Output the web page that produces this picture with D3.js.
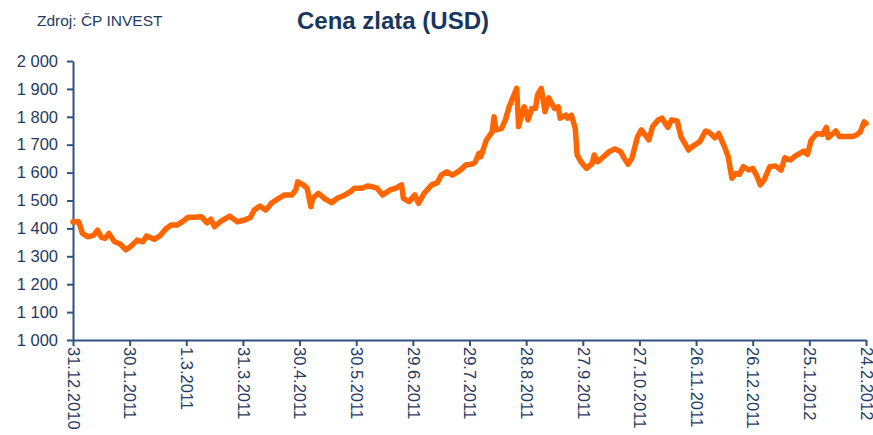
<!DOCTYPE html>
<html>
<head>
<meta charset="utf-8">
<script src="https://cdn.jsdelivr.net/npm/d3@7"></script>
<style>
body{margin:0;background:#fff;}
svg text{font-family:"Liberation Sans",Arial,sans-serif;}
</style>
</head>
<body>
<svg id="chart" width="873" height="435"></svg>
<script>
// gold price
const dates = [
"2010-12-31","2011-01-03","2011-01-05","2011-01-08","2011-01-11","2011-01-13","2011-01-15","2011-01-17","2011-01-19","2011-01-22",
"2011-01-25","2011-01-28","2011-01-31","2011-02-03","2011-02-06","2011-02-08","2011-02-12","2011-02-15","2011-02-18","2011-02-21",
"2011-02-24","2011-02-27","2011-03-02","2011-03-05","2011-03-09","2011-03-12","2011-03-14","2011-03-16","2011-03-19","2011-03-24",
"2011-03-28","2011-04-01","2011-04-04","2011-04-06","2011-04-09","2011-04-12","2011-04-14","2011-04-15","2011-04-19","2011-04-22",
"2011-04-26","2011-04-28","2011-04-29","2011-05-02","2011-05-04","2011-05-06","2011-05-07","2011-05-10","2011-05-13","2011-05-17",
"2011-05-20","2011-05-24","2011-05-27","2011-05-29","2011-06-02","2011-06-05","2011-06-07","2011-06-10","2011-06-13","2011-06-17",
"2011-06-20","2011-06-23","2011-06-24","2011-06-27","2011-06-30","2011-07-02","2011-07-05","2011-07-09","2011-07-12","2011-07-14",
"2011-07-17","2011-07-20","2011-07-24","2011-07-27","2011-07-30","2011-08-01","2011-08-03","2011-08-04","2011-08-07","2011-08-10",
"2011-08-11","2011-08-12","2011-08-15","2011-08-17","2011-08-19","2011-08-23","2011-08-24","2011-08-26","2011-08-27","2011-08-29",
"2011-08-31","2011-09-02","2011-09-03","2011-09-05","2011-09-07","2011-09-09","2011-09-10","2011-09-12","2011-09-14","2011-09-15",
"2011-09-18","2011-09-19","2011-09-21","2011-09-23","2011-09-24","2011-09-26","2011-09-29","2011-10-02","2011-10-03","2011-10-05",
"2011-10-08","2011-10-11","2011-10-14","2011-10-17","2011-10-19","2011-10-21","2011-10-23","2011-10-26","2011-10-28","2011-11-01",
"2011-11-03","2011-11-06","2011-11-08","2011-11-11","2011-11-13","2011-11-16","2011-11-18","2011-11-22","2011-11-24","2011-11-28",
"2011-12-01","2011-12-03","2011-12-06","2011-12-08","2011-12-11","2011-12-13","2011-12-15","2011-12-17","2011-12-19","2011-12-21",
"2011-12-24","2011-12-26","2011-12-28","2011-12-30","2012-01-01","2012-01-04","2012-01-07","2012-01-10","2012-01-12","2012-01-15",
"2012-01-17","2012-01-20","2012-01-22","2012-01-24","2012-01-26","2012-01-29","2012-02-01","2012-02-03","2012-02-04","2012-02-08",
"2012-02-10","2012-02-14","2012-02-17","2012-02-19","2012-02-21","2012-02-23","2012-02-24"
];
const prices = [
1423,1424,1382,1370,1376,1394,1368,1364,1382,1352,
1344,1323,1338,1358,1352,1373,1361,1373,1397,1412,
1412,1424,1440,1440,1442,1420,1433,1406,1424,1444,
1424,1430,1440,1466,1480,1466,1480,1490,1508,1520,
1520,1538,1567,1556,1544,1478,1508,1526,1508,1492,
1508,1520,1532,1544,1544,1552,1550,1544,1520,1538,
1544,1556,1508,1496,1520,1490,1526,1556,1564,1591,
1603,1591,1608,1627,1630,1637,1669,1657,1717,1746,
1800,1753,1758,1789,1836,1902,1765,1818,1836,1789,
1830,1830,1878,1902,1818,1868,1854,1830,1836,1795,
1806,1795,1806,1758,1663,1639,1615,1633,1663,1639,
1657,1675,1685,1675,1651,1630,1651,1729,1753,1717,
1765,1789,1795,1762,1789,1785,1729,1681,1693,1711,
1749,1744,1725,1740,1693,1657,1580,1597,1594,1621,
1609,1615,1591,1556,1573,1621,1624,1609,1653,1645,
1657,1669,1677,1665,1717,1740,1737,1762,1725,1749,
1729,1729,1729,1735,1746,1782,1776
];
const xTickLabels = ["31.12.2010","30.1.2011","1.3.2011","31.3.2011","30.4.2011","30.5.2011","29.6.2011",
  "29.7.2011","28.8.2011","27.9.2011","27.10.2011","26.11.2011","26.12.2011","25.1.2012","24.2.2012"];
const yTicks = [1000,1100,1200,1300,1400,1500,1600,1700,1800,1900,2000];

const navy = "#1f3b63", axisCol = "#2f5380";
const parseIso = d3.timeParse("%Y-%m-%d"), parseTick = d3.timeParse("%d.%m.%Y");
const data = dates.map((d,i) => ({date: parseIso(d), price: prices[i]}));
const tickDates = xTickLabels.map(parseTick);

const svg = d3.select("#chart");
const x = d3.scaleTime().domain([tickDates[0], tickDates[tickDates.length-1]]).range([73, 866]);
const y = d3.scaleLinear().domain([1000, 2000]).range([340, 61]);

svg.append("text").attr("x", 37).attr("y", 26)
  .attr("font-size", 15.5).attr("fill", navy).text("Zdroj: ČP  INVEST");
svg.append("text").attr("x", 393).attr("y", 29).attr("text-anchor", "middle")
  .attr("font-size", 24).attr("font-weight", "bold").attr("fill", "#17375e")
  .text("Cena zlata (USD)");

// y axis
const yAxis = svg.append("g").attr("transform", "translate(73,0)")
  .call(d3.axisLeft(y).tickValues(yTicks).tickSizeInner(6).tickSizeOuter(0).tickPadding(9)
    .tickFormat(v => d3.format(",")(v).replace(",", " ")));
yAxis.selectAll("text").attr("font-size", 16.5).attr("fill", navy);

// x axis
const xAxis = svg.append("g").attr("transform", "translate(0,340)")
  .call(d3.axisBottom(x).tickValues(tickDates).tickSizeInner(6).tickSizeOuter(0)
    .tickFormat((d,i) => xTickLabels[i]));
xAxis.selectAll("text").attr("font-size", 16.5).attr("fill", navy)
  .attr("transform", "rotate(90)").attr("text-anchor", "start")
  .attr("x", 7).attr("y", 0).attr("dy", "0.35em");

svg.selectAll(".domain, .tick line").attr("stroke", axisCol).attr("stroke-width", 2);
svg.selectAll("g[font-family]").attr("font-family", null);

const line = d3.line().x(d => x(d.date)).y(d => y(d.price));
svg.append("path").datum(data)
  .attr("fill", "none").attr("stroke", "#ff6600").attr("stroke-width", 5.5)
  .attr("stroke-linejoin", "round").attr("stroke-linecap", "round")
  .attr("d", line);
</script>
</body>
</html>
